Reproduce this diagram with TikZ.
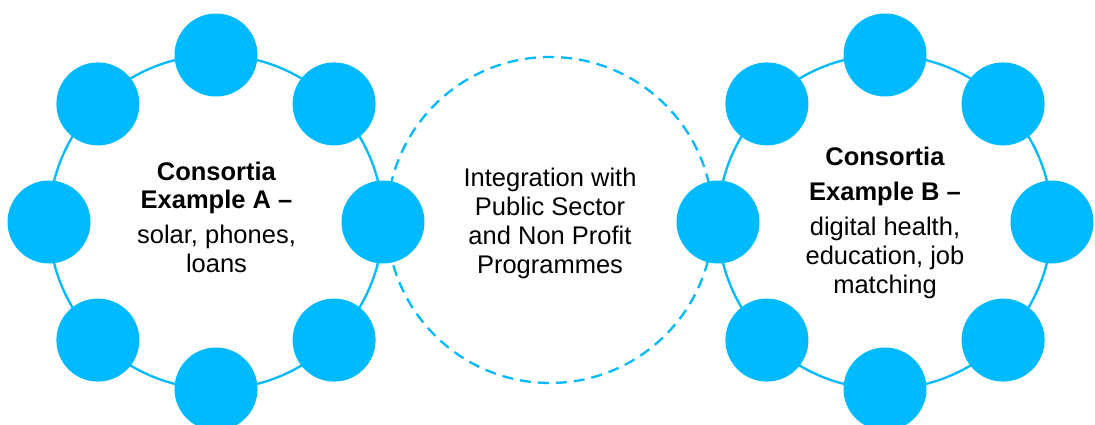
\documentclass[tikz,border=0pt]{standalone}
\usepackage{fontspec}
\setmainfont{Liberation Sans}
\definecolor{skyblue}{RGB}{0,186,255}
\tikzset{
  member/.style={circle, fill=skyblue, minimum size=83pt, inner sep=0pt},
  ring/.style={draw=skyblue, line width=2.3pt},
  linkring/.style={draw=skyblue, line width=2.3pt, dash pattern=on 11pt off 7pt},
  label/.style={align=center, inner sep=0pt}
}
\begin{document}
\begin{tikzpicture}[
  x=1pt, y=1pt,
  font=\fontsize{25.5}{29}\selectfont
]
  \useasboundingbox (0,0) rectangle (1095,425);

  % ring centres
  \def\rr{167pt}
  \coordinate (A) at (216,203);
  \coordinate (B) at (885,203);
  \coordinate (C) at (550,205);

  % rings
  \draw[linkring] (C) circle(163pt);
  \draw[ring] (A) circle(\rr);
  \draw[ring] (B) circle(\rr);

  % members of consortium A
  \node[member] (a1) at ([shift={(90:\rr)}]A) {};
  \node[member] (a2) at ([shift={(45:\rr)}]A) {};
  \node[member] (a3) at ([shift={(0:\rr)}]A) {};
  \node[member] (a4) at ([shift={(-45:\rr)}]A) {};
  \node[member] (a5) at ([shift={(-90:\rr)}]A) {};
  \node[member] (a6) at ([shift={(-135:\rr)}]A) {};
  \node[member] (a7) at ([shift={(180:\rr)}]A) {};
  \node[member] (a8) at ([shift={(135:\rr)}]A) {};

  % members of consortium B
  \node[member] (b1) at ([shift={(90:\rr)}]B) {};
  \node[member] (b2) at ([shift={(45:\rr)}]B) {};
  \node[member] (b3) at ([shift={(0:\rr)}]B) {};
  \node[member] (b4) at ([shift={(-45:\rr)}]B) {};
  \node[member] (b5) at ([shift={(-90:\rr)}]B) {};
  \node[member] (b6) at ([shift={(-135:\rr)}]B) {};
  \node[member] (b7) at ([shift={(180:\rr)}]B) {};
  \node[member] (b8) at ([shift={(135:\rr)}]B) {};

  % texts
  \node[label] (ta) at (216.5,208)
    {\textbf{Consortia}\\[-1pt]\textbf{Example A –}\\[6pt]solar, phones,\\loans};
  \node[label] (tb) at (885,202.5)
    {\textbf{Consortia}\\[6pt]\textbf{Example B –}\\[6pt]digital health,\\education, job\\matching};
  \node[label] (tc) at (550,201.5)
    {Integration with\\Public Sector\\and Non Profit\\Programmes};

\end{tikzpicture}
\end{document}
